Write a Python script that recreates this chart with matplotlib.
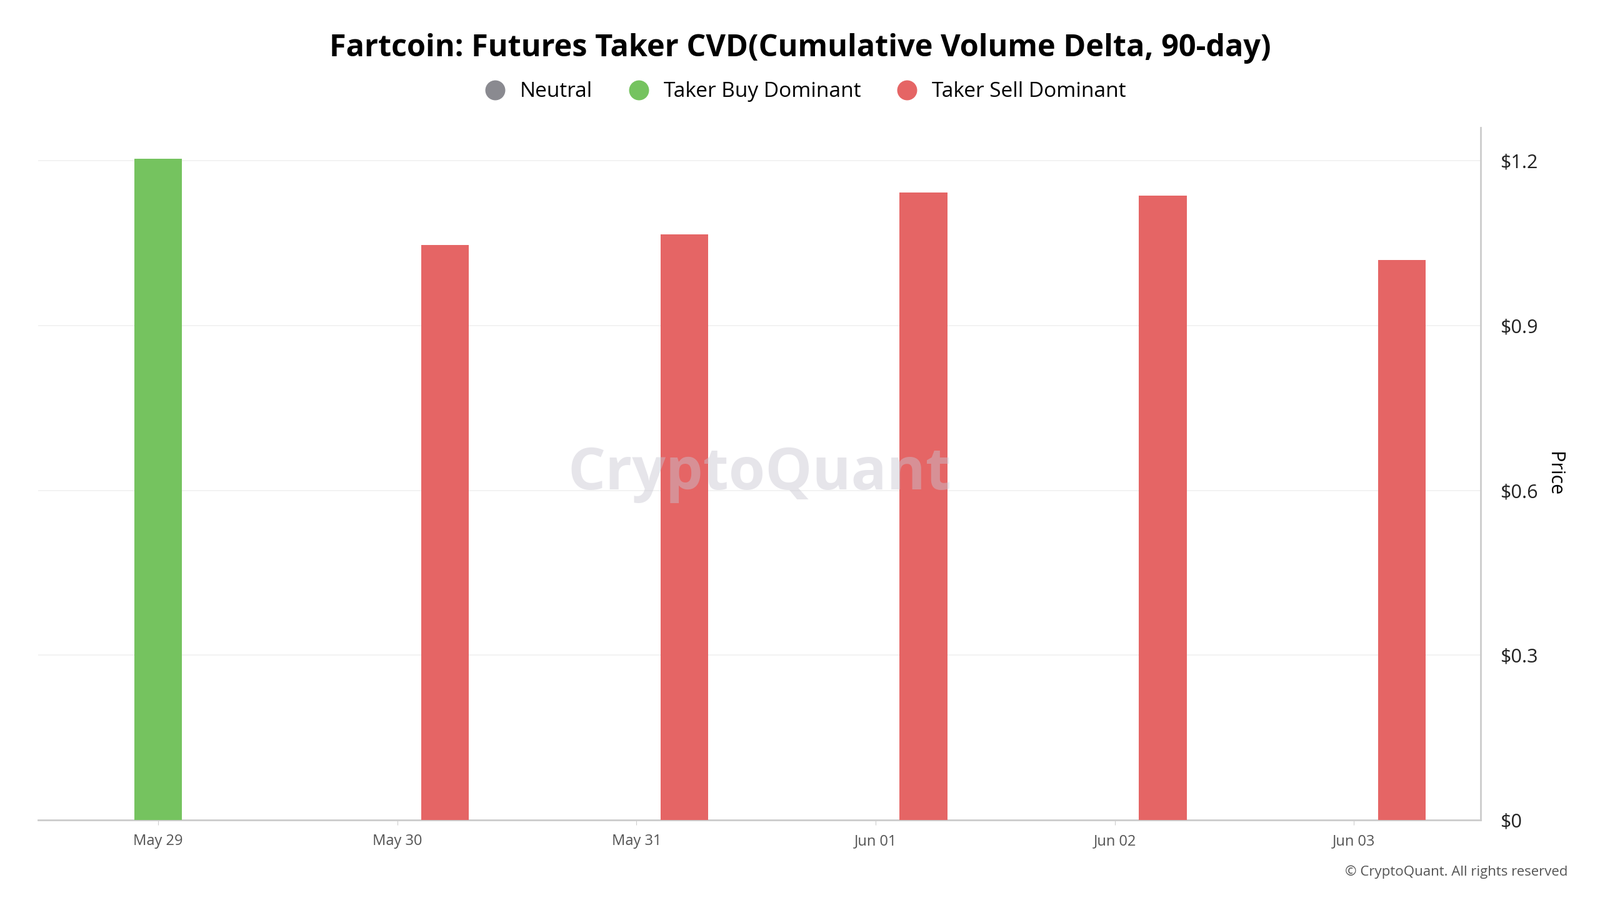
import matplotlib.pyplot as plt
from matplotlib.lines import Line2D

plt.rcParams['font.family'] = ['Open Sans', 'Noto Sans', 'DejaVu Sans']

# data
dates = ['May 29', 'May 30', 'May 31', 'Jun 01', 'Jun 02', 'Jun 03']
bar_pos = [0.0, 1.2, 2.2, 3.2, 4.2, 5.2]
prices = [1.204, 1.047, 1.066, 1.142, 1.137, 1.019]
states = ['buy', 'sell', 'sell', 'sell', 'sell', 'sell']
yticks = [0, 0.3, 0.6, 0.9, 1.2]
ytick_labels = ['$0', '$0.3', '$0.6', '$0.9', '$1.2']

colors = {'neutral': '#8a8a90', 'buy': '#75c35f', 'sell': '#e56565'}

fig = plt.figure(figsize=(25.6, 14.4), dpi=100)
ax = fig.add_axes([0.024, 0.089, 0.907 - 0.0055, 0.769])

ax.bar(bar_pos, prices, width=0.2, color=[colors[s] for s in states],
       zorder=3)

ax.set_xlim(-0.5, 5.53)
ax.set_ylim(0, 1.26)
ax.set_xticks(range(len(dates)))
ax.set_xticklabels(dates, fontsize=17, color='#555555')
ax.tick_params(axis='x', length=6, color='#cccccc', pad=10)

ax.yaxis.tick_right()
ax.yaxis.set_label_position('right')
ax.set_yticks(yticks)
ax.set_yticklabels(ytick_labels, fontsize=22, color='#222222')
ax.tick_params(axis='y', length=0, pad=22)
ax.set_ylabel('Price', fontsize=22, rotation=270, labelpad=30)
ax.grid(axis='y', color='#f0f0f0', linewidth=1.2, zorder=0)

for side in ['top', 'left']:
    ax.spines[side].set_visible(False)
ax.spines['bottom'].set_color('#cccccc')
ax.spines['right'].set_color('#cccccc')
ax.spines['bottom'].set_linewidth(2)
ax.spines['right'].set_linewidth(2)

ax.text(0.5, 0.5, 'CryptoQuant', transform=ax.transAxes, ha='center',
        va='center', fontsize=68, color='#c8c6d2', fontweight='bold',
        zorder=4, alpha=0.45)

fig.suptitle('Fartcoin: Futures Taker CVD(Cumulative Volume Delta, 90-day)',
             fontsize=35, fontweight='bold', y=0.963)

handles = [Line2D([], [], marker='o', linestyle='', markersize=22,
                  color=colors[k]) for k in ['neutral', 'buy', 'sell']]
fig.legend(handles, ['Neutral', 'Taker Buy Dominant', 'Taker Sell Dominant'],
           loc='center', bbox_to_anchor=(0.5, 0.898), ncol=3, frameon=False,
           fontsize=24, handletextpad=0.2, columnspacing=1.2)

fig.text(0.98, 0.027, '© CryptoQuant. All rights reserved', ha='right',
         fontsize=16, color='#555555')

fig.savefig('out.png')
